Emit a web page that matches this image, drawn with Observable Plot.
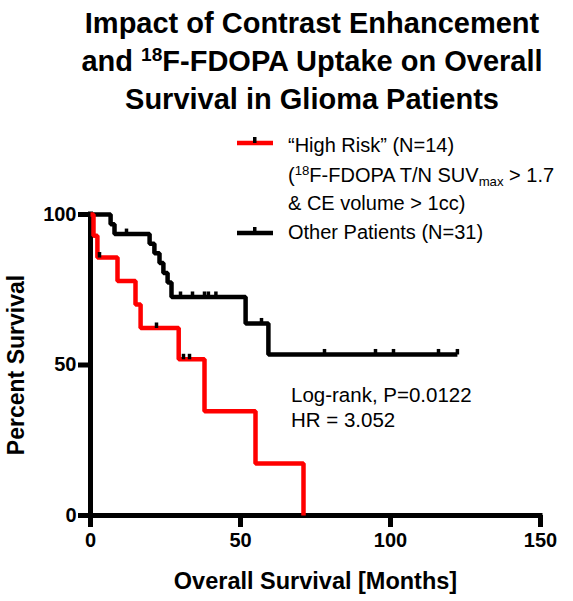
<!DOCTYPE html>
<html>
<head>
<meta charset="utf-8">
<script src="https://cdn.jsdelivr.net/npm/d3@7"></script>
<script src="https://cdn.jsdelivr.net/npm/@observablehq/plot@0.6"></script>
<style>
  html, body { margin: 0; padding: 0; background: #fff; overflow: hidden; }
  #wrap { position: relative; width: 573px; height: 601px; font-family: "Liberation Sans", Arial, sans-serif; color: #000; }
  #chart { position: absolute; left: 0; top: 0; }
  .abs { position: absolute; white-space: nowrap; }
  .title { left: 312px; top: 4px; transform: translateX(-50%); text-align: center; font-weight: bold; font-size: 29px; line-height: 38px; }
  .leg { font-size: 20px; line-height: 20px; left: 288px; }
  .ann { font-size: 20.5px; line-height: 20.5px; left: 291px; }
  sup.s { font-size: 0.66em; vertical-align: 0.5em; line-height: 0; }
  sub.s { font-size: 0.66em; vertical-align: -0.3em; line-height: 0; }
</style>
</head>
<body>
<div id="wrap">
  <div id="chart"></div>
  <div class="abs title">Impact of Contrast Enhancement<br>and <sup class="s">18</sup>F-FDOPA Uptake on Overall<br>Survival in Glioma Patients</div>

  <svg class="abs" style="left:237px;top:133px" width="36" height="14">
    <line x1="0" x2="36" y1="10" y2="10" stroke="#ff0000" stroke-width="4.5"/>
    <rect x="16" y="4" width="3.5" height="6" fill="#000"/>
  </svg>
  <div class="abs leg" style="top:135px">“High Risk” (N=14)</div>
  <div class="abs leg" style="top:165px">(<sup class="s">18</sup>F-FDOPA T/N SUV<sub class="s">max</sub> &gt; 1.7</div>
  <div class="abs leg" style="top:193px">&amp; CE volume &gt; 1cc)</div>
  <svg class="abs" style="left:237px;top:223px" width="36" height="14">
    <line x1="0" x2="36" y1="10" y2="10" stroke="#000" stroke-width="4.5"/>
    <rect x="16" y="4" width="3.5" height="6" fill="#000"/>
  </svg>
  <div class="abs leg" style="top:222px">Other Patients (N=31)</div>

  <div class="abs ann" style="top:385px">Log-rank, P=0.0122</div>
  <div class="abs ann" style="top:410px">HR = 3.052</div>
</div>
<script>
// ---- data ----
const xTicks = [0, 50, 100, 150];
const yTicks = [0, 50, 100];

const highRiskMonths   = [0, 1, 2.3, 9, 15, 16.7, 29.4, 38, 55, 71];
const highRiskSurvival = [100, 92.9, 85.7, 77.9, 70.1, 62.3, 51.9, 34.6, 17.3, 0];
const highRiskCensorMonths   = [3, 22, 31, 33];
const highRiskCensorSurvival = [85.7, 62.3, 51.9, 51.9];

const otherMonths   = [0, 6.7, 8, 19.7, 21.3, 23, 24.3, 25.7, 27, 51.7, 59.3, 122.3];
const otherSurvival = [100, 96.8, 93.5, 90.3, 87.1, 83.9, 80.6, 77.4, 72.6, 63.8, 53.5, 53.5];
const otherCensorMonths   = [12, 30, 34, 38, 39.3, 41.8, 57, 78, 95, 101, 116, 122.3];
const otherCensorSurvival = [93.5, 72.6, 72.6, 72.6, 72.6, 72.6, 63.8, 53.5, 53.5, 53.5, 53.5, 53.5];

const xLabel = "Overall Survival [Months]";
const yLabel = "Percent Survival";

// ---- build tables ----
const zip = (xs, ys) => xs.map((x, i) => ({x, y: ys[i]}));
const highRisk = zip(highRiskMonths, highRiskSurvival);
const other = zip(otherMonths, otherSurvival);
const censors = [...zip(highRiskCensorMonths, highRiskCensorSurvival), ...zip(otherCensorMonths, otherCensorSurvival)];

// censor tick: a small upright bar sitting on the line
const censorSymbol = { draw(ctx) { ctx.rect(-1.75, -5.5, 3.5, 5.5); } };

const chart = Plot.plot({
  width: 573,
  height: 601,
  marginTop: 214,
  marginBottom: 86,
  marginLeft: 90,
  marginRight: 33,
  style: { fontFamily: "'Liberation Sans', Arial, sans-serif", fontSize: "20px", fontWeight: "bold", color: "#000", background: "transparent" },
  x: { domain: [0, 150] },
  y: { domain: [0, 100] },
  marks: [
    Plot.axisX({ ticks: xTicks, tickSize: 12, tickPadding: 5, strokeWidth: 5, label: null, tickFormat: d => String(d) }),
    Plot.axisY({ ticks: yTicks, tickSize: 12, tickPadding: 2, strokeWidth: 5, label: null, tickFormat: d => String(d) }),
    Plot.ruleY([0], { strokeWidth: 5, strokeLinecap: "square" }),
    Plot.ruleX([0], { strokeWidth: 5, strokeLinecap: "square" }),
    Plot.line(other, { x: "x", y: "y", curve: "step-after", stroke: "#000", strokeWidth: 4.5, strokeLinejoin: "miter", strokeLinecap: "butt" }),
    Plot.line(highRisk, { x: "x", y: "y", curve: "step-after", stroke: "#ff0000", strokeWidth: 4.5, strokeLinejoin: "miter", strokeLinecap: "butt" }),
    Plot.dot(censors, { x: "x", y: "y", symbol: censorSymbol, r: 3, fill: "#000", stroke: null }),
    Plot.text([xLabel], { frameAnchor: "bottom", lineAnchor: "middle", textAnchor: "middle", dy: 66, fontSize: 23.5, fontWeight: "bold" }),
    Plot.text([yLabel], { frameAnchor: "left", lineAnchor: "middle", textAnchor: "middle", dx: -74, rotate: -90, fontSize: 23, fontWeight: "bold" })
  ]
});
document.getElementById("chart").appendChild(chart);
</script>
</body>
</html>
